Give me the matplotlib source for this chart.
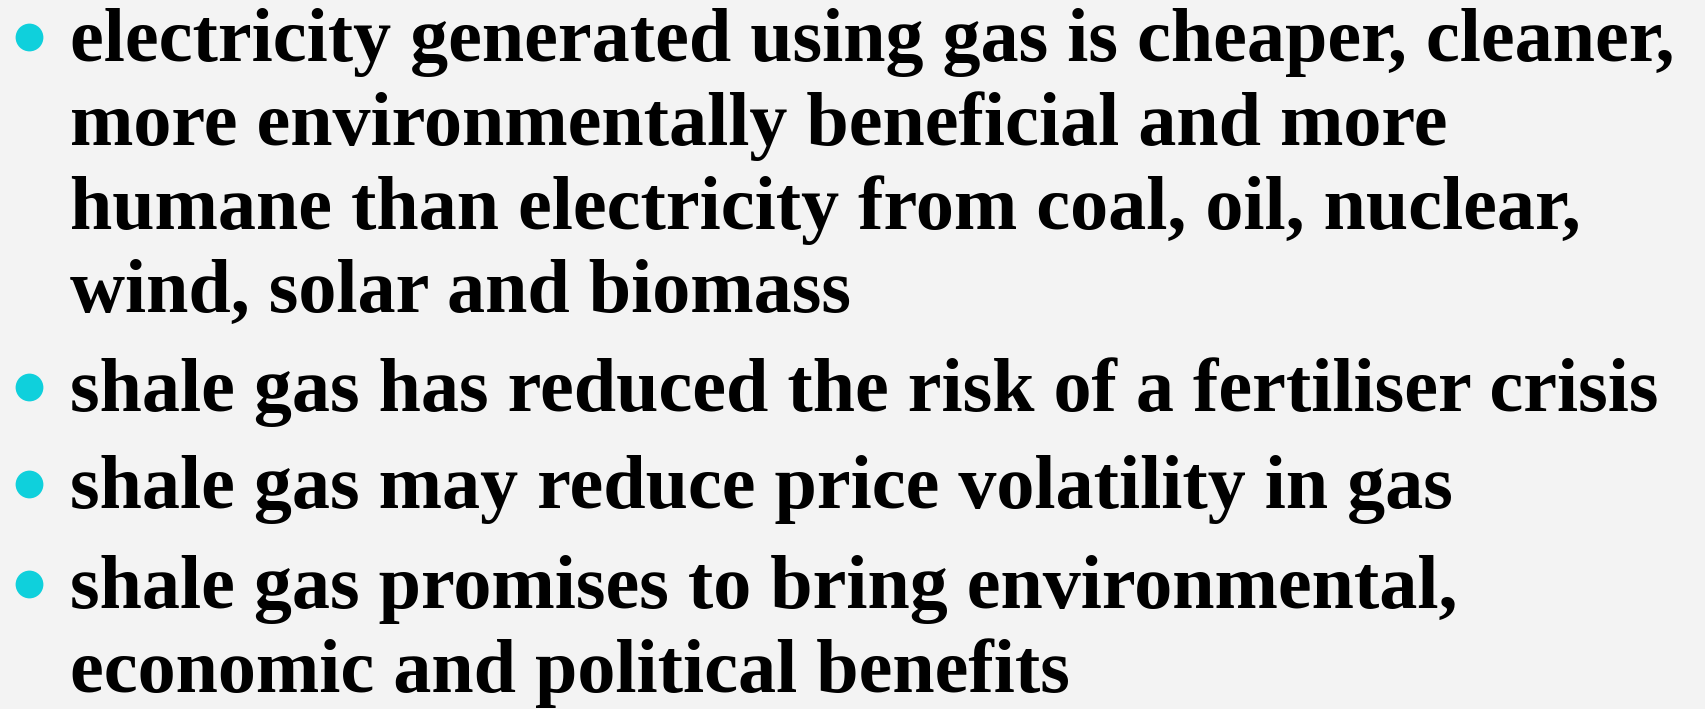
import matplotlib
matplotlib.use("Agg")
import matplotlib.pyplot as plt

# ---- content ----
bullet_1 = ["electricity generated using gas is cheaper, cleaner,",
            "more environmentally beneficial and more",
            "humane than electricity from coal, oil, nuclear,",
            "wind, solar and biomass"]
bullet_2 = ["shale gas has reduced the risk of a fertiliser crisis"]
bullet_3 = ["shale gas may reduce price volatility in gas"]
bullet_4 = ["shale gas promises to bring environmental,",
            "economic and political benefits"]
bullets = [bullet_1, bullet_2, bullet_3, bullet_4]

# ---- layout (pixels, top-left origin) ----
W, H = 1705, 709
bg = "#f3f3f3"
bullet_color = "#0fd0dc"
text_x = 70
bullet_x = 29
baselines = [[61, 145, 229, 312], [411], [508], [608, 692]]
bullet_dy = -24
target_width = 1604  # width of first line

fig = plt.figure(figsize=(W / 100, H / 100), dpi=100, facecolor=bg)
ax = fig.add_axes([0, 0, 1, 1])
ax.set_xlim(0, W)
ax.set_ylim(H, 0)
ax.axis("off")
ax.set_facecolor(bg)

family = "Liberation Serif"
# fit font size to the first line's width
probe = ax.text(0, 0, bullet_1[0], fontsize=48, fontweight="bold", family=family)
fig.canvas.draw()
w = probe.get_window_extent().width
probe.remove()
fs = 48 * target_width / w

for lines, bls in zip(bullets, baselines):
    ax.plot([bullet_x], [bls[0] + bullet_dy], "o", ms=20, color=bullet_color, mec="none")
    for line, y in zip(lines, bls):
        ax.text(text_x, y, line, fontsize=fs, fontweight="bold", family=family,
                color="black", va="baseline", ha="left")

fig.savefig("out.png", dpi=100, facecolor=bg)
